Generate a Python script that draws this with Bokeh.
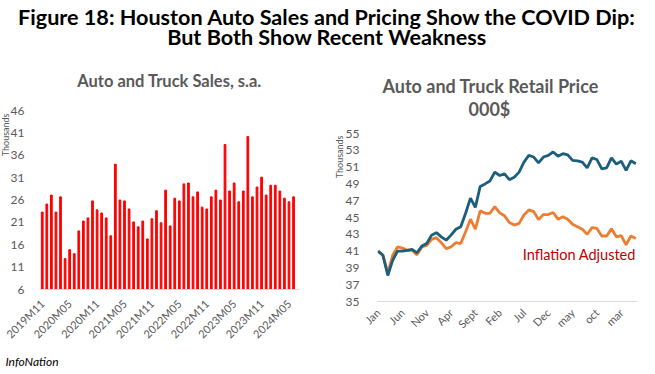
from math import pi
from bokeh.plotting import figure
from bokeh.models import Range1d, FixedTicker, Title, Label
from bokeh.layouts import column, row
from bokeh.core.properties import value
from bokeh.embed import file_html
from bokeh.resources import INLINE

# ---------------- data ----------------
main_title = ["Figure 18: Houston Auto Sales and Pricing Show the COVID Dip:",
              "But Both Show Recent Weakness"]

# Auto and truck sales (thousands), monthly 2019M11 .. 2024M06
sales = [23.3, 25.1, 27.1, 23.3, 26.7, 12.9, 14.9, 14.0, 19.1, 21.3,
         22.0, 25.8, 23.8, 23.1, 22.0, 18.0, 34.0, 26.0, 25.8, 24.0,
         21.1, 20.0, 21.3, 17.3, 21.8, 23.6, 20.9, 28.2, 20.2, 26.4,
         25.8, 29.6, 29.8, 26.7, 27.8, 24.4, 24.0, 26.7, 28.2, 26.0,
         38.4, 28.0, 29.8, 25.6, 28.0, 40.2, 26.7, 28.9, 31.1, 27.1,
         29.3, 29.3, 28.0, 26.4, 25.6, 26.7]
sales_tick_labels = ["2019M11", "2020M05", "2020M11", "2021M05", "2021M11",
                     "2022M05", "2022M11", "2023M05", "2023M11", "2024M05"]
sales_y_ticks = [6, 11, 16, 21, 26, 31, 36, 41, 46]

# Retail price (thousands of $), monthly Jan 2020 .. Jun 2024
price_nominal = [41.0, 40.5, 38.1, 39.9, 41.0, 41.0, 41.1, 41.2, 40.8, 41.6,
                 41.9, 42.9, 43.2, 42.7, 42.3, 42.9, 43.6, 43.9, 45.5, 47.3,
                 46.2, 48.7, 49.0, 49.35, 50.4, 50.0, 50.2, 49.5, 49.8, 50.4,
                 51.6, 52.4, 52.2, 51.5, 52.2, 52.4, 52.8, 52.3, 52.6, 52.45,
                 51.8, 51.75, 51.6, 50.9, 52.1, 51.9, 50.8, 50.9, 52.1, 51.35,
                 51.7, 50.6, 51.75, 51.4]
price_adjusted = [41.0, 40.5, 38.4, 40.5, 41.5, 41.35, 41.1, 41.1, 40.55, 41.5,
                  41.67, 42.4, 42.6, 42.0, 41.3, 41.5, 42.0, 41.9, 43.3, 44.8,
                  43.6, 45.8, 45.5, 45.5, 46.3, 45.55, 45.2, 44.4, 44.1, 44.3,
                  45.3, 45.9, 45.7, 44.75, 45.35, 45.35, 45.6, 44.8, 45.1, 44.8,
                  44.2, 43.9, 43.6, 43.0, 43.8, 43.7, 42.8, 42.8, 43.65, 42.7,
                  42.85, 41.75, 42.8, 42.5]
price_tick_labels = ["Jan", "Jun", "Nov", "Apr", "Sept", "Feb", "Jul", "Dec",
                     "may", "oct", "mar"]
price_y_ticks = [35, 37, 39, 41, 43, 45, 47, 49, 51, 53, 55]

FONT = "Lato"
GREY = "#595959"

# ---------------- title strip ----------------
TW, TH = 654, 48
tf = figure(width=TW, height=TH, x_range=Range1d(0, TW), y_range=Range1d(0, TH),
            toolbar_location=None, output_backend="svg", min_border=0,
            x_axis_location=None, y_axis_location=None, frame_align=False)
tf.grid.visible = False
tf.outline_line_color = None
tf.text(x=[326.5, 326.5], y=[TH - 16, TH - 36], text=main_title, text_align="center",
        text_baseline="middle", text_font=value(FONT), text_font_style="bold",
        text_font_size="21.6px", text_color="#000000")


def style_axes(p):
    p.grid.visible = False
    p.outline_line_color = None
    for ax in (p.xaxis[0], p.yaxis[0]):
        ax.major_tick_line_color = None
        ax.minor_tick_line_color = None
        ax.major_label_text_color = GREY
        ax.major_label_text_font = FONT
    p.yaxis[0].axis_line_color = None
    p.xaxis[0].axis_line_color = "#D9D9D9"
    p.xaxis[0].major_label_orientation = pi / 4


# ---------------- left: sales bars ----------------
n_s = len(sales)
lf = figure(width=330, height=372 - TH, x_range=Range1d(-0.6, n_s + 0.3),
            y_range=Range1d(sales_y_ticks[0], sales_y_ticks[-1]),
            toolbar_location=None, output_backend="svg", frame_align=False,
            min_border_left=38, min_border_right=31, min_border_top=61,
            min_border_bottom=83)
lf.vbar(x=list(range(n_s)), top=sales, bottom=sales_y_ticks[0], width=0.38,
        color="#FF0000")
style_axes(lf)
lf.yaxis.ticker = FixedTicker(ticks=sales_y_ticks)
lf.yaxis.major_label_text_font_size = "12px"
lf.yaxis.major_label_standoff = 9
s_ticks = list(range(0, n_s, 6))
lf.xaxis.ticker = FixedTicker(ticks=s_ticks)
lf.xaxis.major_label_overrides = {t: l for t, l in zip(s_ticks, sales_tick_labels)}
lf.xaxis.major_label_text_font_size = "11px"
lf.xaxis.major_label_standoff = 6
lf.add_layout(Title(text="Auto and Truck Sales, s.a.", align="center",
                    text_font=FONT, text_font_style="bold", text_font_size="16.5px",
                    text_color=GREY, standoff=40), "above")
lf.add_layout(Title(text="Thousands", align="right", text_font=FONT,
                    text_font_style="normal", text_font_size="9px",
                    text_color=GREY, standoff=-6, offset=3), "left")
lf.add_layout(Title(text="InfoNation", align="left", text_font=FONT,
                    text_font_style="italic", text_font_size="12px",
                    text_color="#000000", standoff=8, offset=-34), "below")

# ---------------- right: retail price lines ----------------
n_p = len(price_nominal)
rf = figure(width=324, height=372 - TH, x_range=Range1d(-0.12, n_p - 0.65),
            y_range=Range1d(price_y_ticks[0], price_y_ticks[-1]),
            toolbar_location=None, output_backend="svg", frame_align=False,
            min_border_left=47, min_border_right=17, min_border_top=85,
            min_border_bottom=71)
xs = list(range(n_p))
rf.line(xs, price_adjusted, line_color="#ED7D31", line_width=2.8)
rf.line(xs, price_nominal, line_color="#1B5E7E", line_width=2.8)
style_axes(rf)
rf.yaxis.ticker = FixedTicker(ticks=price_y_ticks)
rf.yaxis.major_label_text_font_size = "12px"
rf.yaxis.major_label_standoff = 12
p_ticks = list(range(0, n_p, 5))
rf.xaxis.ticker = FixedTicker(ticks=p_ticks)
rf.xaxis.major_label_overrides = {t: l for t, l in zip(p_ticks, price_tick_labels)}
rf.xaxis.major_label_text_font_size = "11px"
rf.xaxis.major_label_standoff = 3
rf.add_layout(Title(text="000$", align="left", text_font=FONT,
                    text_font_style="bold", text_font_size="18px",
                    text_color=GREY, standoff=27, offset=91), "above")
rf.add_layout(Title(text="Auto and Truck Retail Price", align="left",
                    text_font=FONT, text_font_style="bold", text_font_size="18px",
                    text_color=GREY, standoff=-28, offset=5), "above")
rf.add_layout(Title(text="Thousands", align="right", text_font=FONT,
                    text_font_style="normal", text_font_size="9px",
                    text_color=GREY, standoff=-4, offset=2), "left")
rf.add_layout(Label(x=29.75, y=40.63, text="Inflation Adjusted",
                    text_font=FONT, text_font_size="14.5px", text_color="#C00000",
                    text_baseline="middle", text_align="left"))

layout = column(tf, row(lf, rf, spacing=0), spacing=0)
open("out.html", "w").write(file_html(layout, INLINE))
